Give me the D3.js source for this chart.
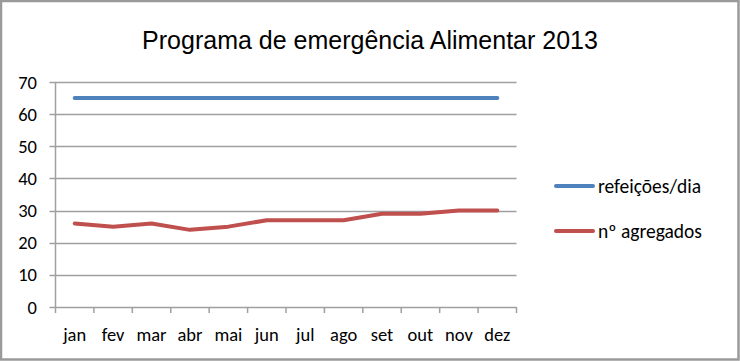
<!DOCTYPE html>
<html><head><meta charset="utf-8">
<script src="https://cdn.jsdelivr.net/npm/d3@7"></script>
<style>body{margin:0;background:#fff}svg{display:block}</style>
</head><body>
<svg id="c" width="740" height="361"></svg>
<script>
const months = ["jan","fev","mar","abr","mai","jun","jul","ago","set","out","nov","dez"];
const refeicoes = [65,65,65,65,65,65,65,65,65,65,65,65];
const agregados = [26,25,26,24,25,27,27,27,29,29,30,30];
const yTicks = [0,10,20,30,40,50,60,70];
const seriesNames = ["refeições/dia","nº agregados"];
const colors = ["#4F81BD","#C0504D"];

(function(){
const svg = d3.select("#c");
const W=740,H=361;
const font = "Carlito, Lato, 'Open Sans', sans-serif";
svg.append("rect").attr("x",1).attr("y",1).attr("width",W-2.5).attr("height",H-2.5)
  .attr("fill","#fff").attr("stroke","#9a9a9a").attr("stroke-width",2.5);

const pL=55.5,pR=516.5,pT=82,pB=307;
const x = d3.scaleBand().domain(months).range([pL,pR]);
const y = d3.scaleLinear().domain([0,70]).range([pB,pT]);
const grid="#a0a0a0";

svg.append("g").selectAll("line").data(yTicks).join("line")
  .attr("x1",pL-6).attr("x2",pR).attr("y1",d=>Math.round(y(d))+0.5).attr("y2",d=>Math.round(y(d))+0.5)
  .attr("stroke",grid).attr("stroke-width",1.5);
svg.append("line").attr("x1",pL).attr("x2",pL).attr("y1",pT).attr("y2",pB)
  .attr("stroke",grid).attr("stroke-width",1.5);
const xt = months.map(m=>x(m)).concat([pR]);
svg.append("g").selectAll("line").data(xt).join("line")
  .attr("x1",d=>d).attr("x2",d=>d).attr("y1",pB).attr("y2",pB+6)
  .attr("stroke",grid).attr("stroke-width",1.5);

svg.append("g").selectAll("text").data(yTicks).join("text")
  .attr("x",37).attr("y",d=>y(d)+6.5).attr("text-anchor","end")
  .attr("font-family",font).attr("font-size",18.5).attr("fill","#000").text(d=>d);
svg.append("g").selectAll("text").data(months).join("text")
  .attr("x",d=>x(d)+x.bandwidth()/2).attr("y",341).attr("text-anchor","middle")
  .attr("font-family",font).attr("font-size",18.5).attr("fill","#000").text(d=>d);

const line = d3.line().x((d,i)=>x(months[i])+x.bandwidth()/2).y(d=>y(d));
[refeicoes,agregados].forEach((s,i)=>{
  svg.append("path").attr("d",line(s)).attr("fill","none").attr("stroke",colors[i])
    .attr("stroke-width",4).attr("stroke-linejoin","round").attr("stroke-linecap","round");
});

svg.append("text").attr("x",370).attr("y",49).attr("text-anchor","middle")
  .attr("font-family","'Liberation Sans', Arial, sans-serif").attr("font-size",25).attr("fill","#000")
  .text("Programa de emergência Alimentar 2013");

const ly=[186,231];
seriesNames.forEach((n,i)=>{
  svg.append("line").attr("x1",556).attr("x2",593).attr("y1",ly[i]).attr("y2",ly[i])
    .attr("stroke",colors[i]).attr("stroke-width",4).attr("stroke-linecap","round");
  svg.append("text").attr("x",598).attr("y",ly[i]+6.5).attr("font-family",font)
    .attr("font-size",19.5).attr("fill","#000").text(n);
});
})();
</script>
</body></html>
